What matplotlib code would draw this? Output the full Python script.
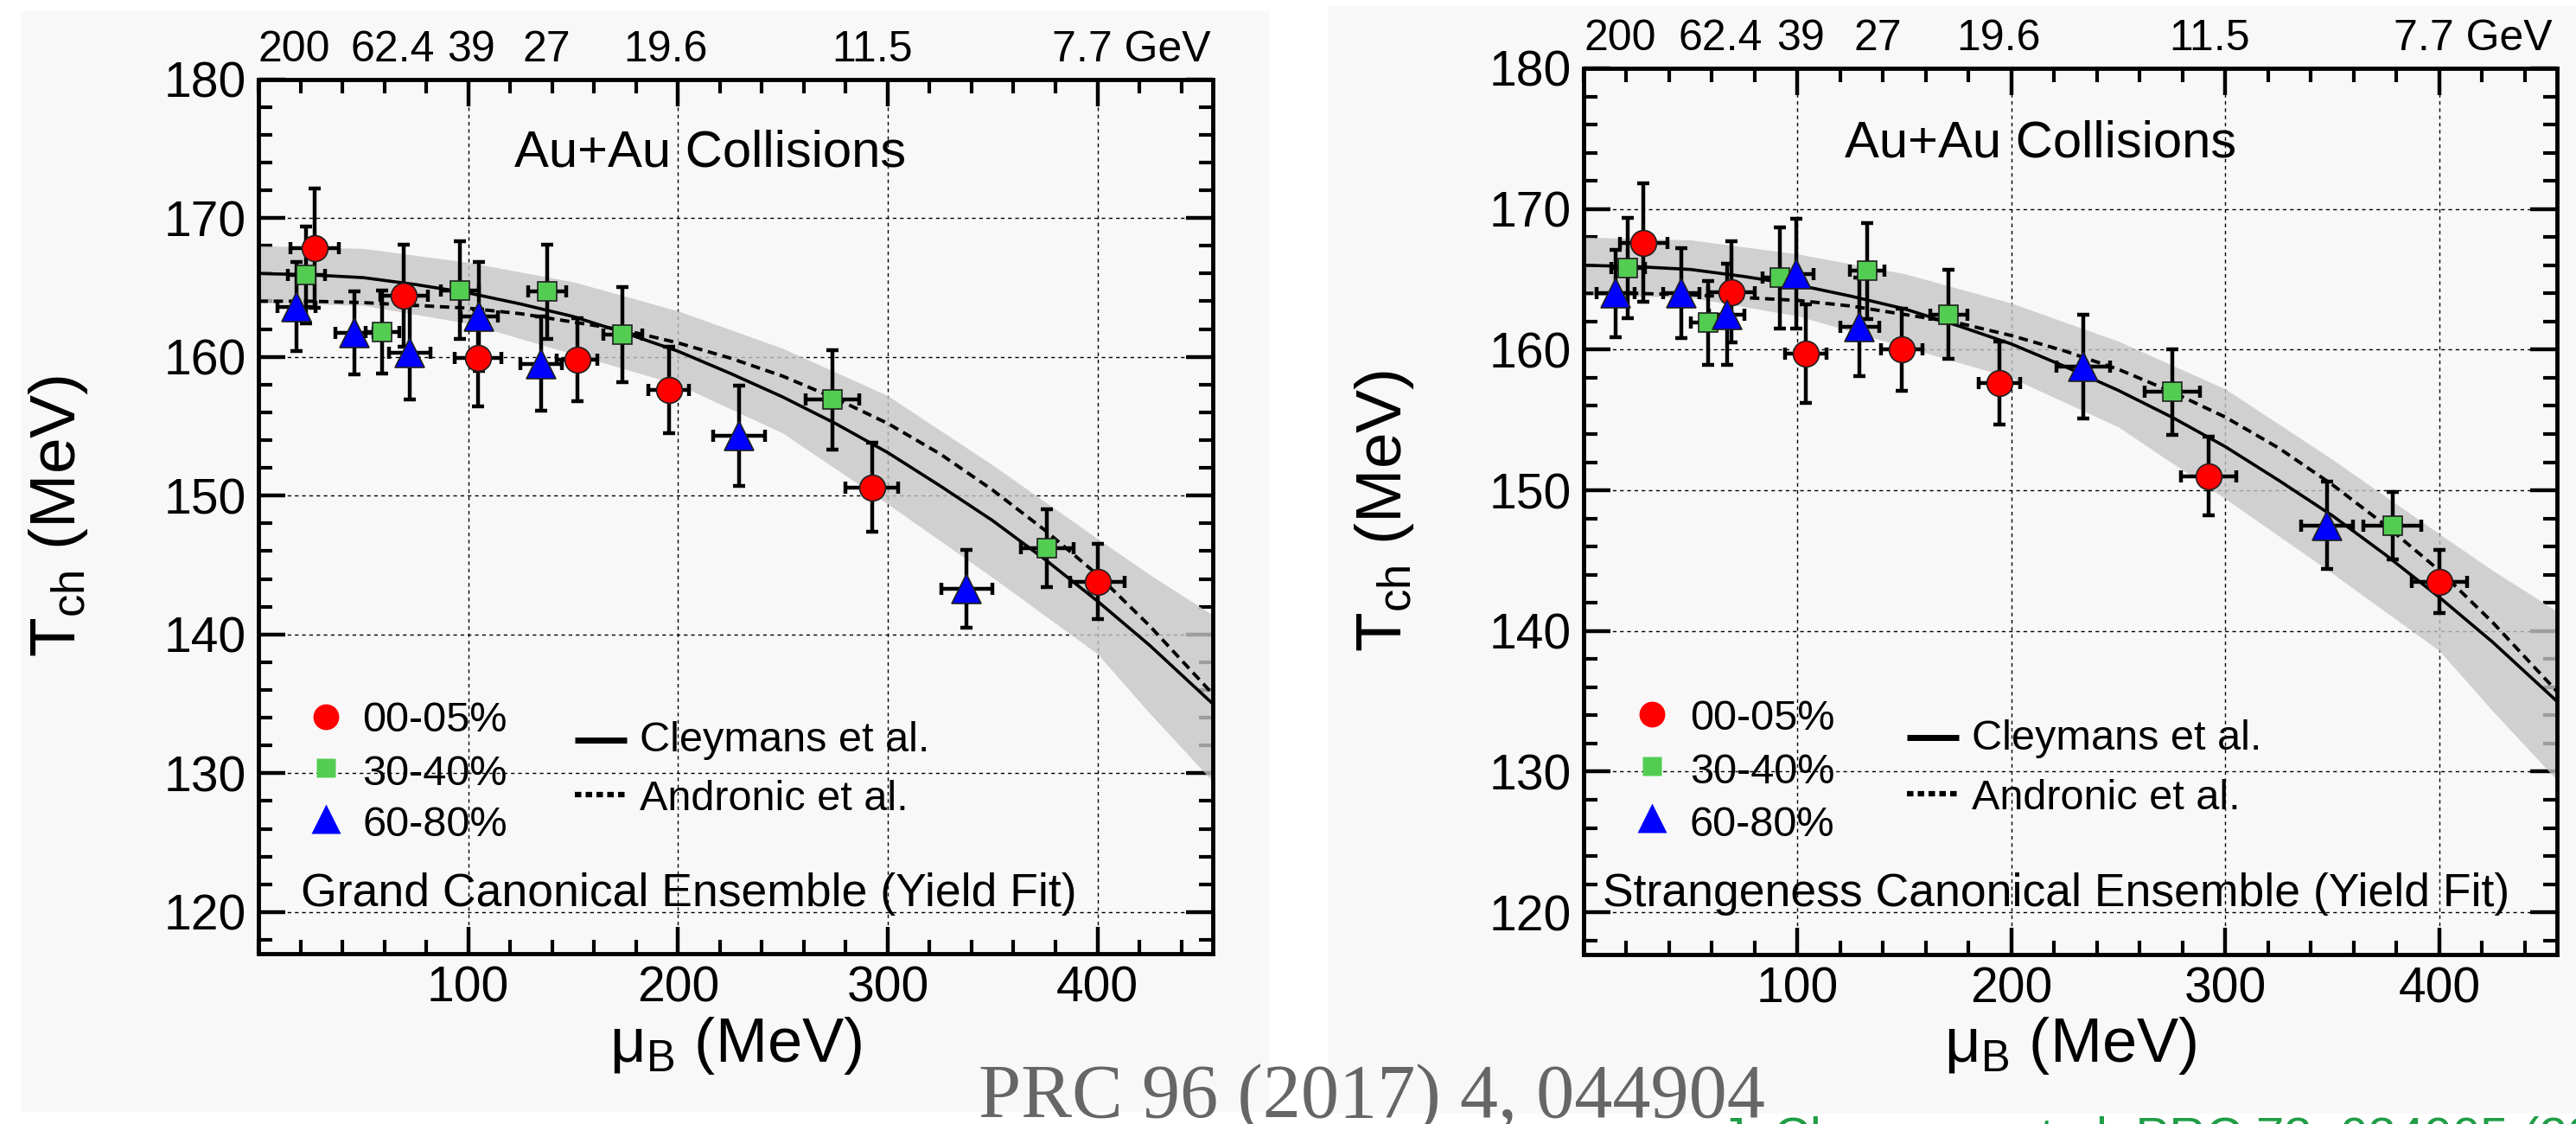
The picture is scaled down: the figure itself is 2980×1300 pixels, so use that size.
import matplotlib
matplotlib.use('Agg')
import matplotlib.pyplot as plt
from matplotlib.patches import Rectangle
from matplotlib.ticker import MultipleLocator

plt.rcParams['font.family'] = ['Liberation Sans', 'DejaVu Sans']
plt.rcParams['mathtext.fontset'] = 'custom'
plt.rcParams['mathtext.rm'] = 'Liberation Sans'
plt.rcParams['mathtext.it'] = 'Liberation Sans:italic'

# ---- data ----
energy_labels = ['200', '62.4', '39', '27', '19.6', '11.5', '7.7 GeV']
energy_mu = [17, 64, 101.5, 137.5, 194, 292.5, 392.6]

# model curves (mu_B in MeV, T in MeV)
curve_mu = [0, 25, 50, 75, 100, 125, 150, 175, 200, 225, 250, 275, 300, 325, 350, 375, 400, 425, 455]
cleymans_T = [166.0, 165.9, 165.7, 165.2, 164.6, 163.8, 162.9, 161.7, 160.4, 158.8, 157.1,
              155.2, 153.1, 150.7, 148.2, 145.4, 142.4, 139.2, 135.0]
andronic_T = [164.0, 164.0, 163.9, 163.7, 163.5, 163.1, 162.5, 161.9, 161.0, 159.9, 158.6,
              157.0, 155.2, 153.0, 150.4, 147.5, 144.3, 140.6, 135.7]
band_mu = [0, 50, 100, 150, 200, 250, 300, 350, 400, 425, 455]
band_hi = [168.0, 167.8, 166.8, 165.4, 163.3, 160.6, 157.2, 152.2, 146.9, 144.3, 141.4]
band_lo = [163.9, 163.7, 162.4, 160.2, 158.0, 154.5, 149.4, 144.1, 138.6, 134.3, 129.4]

# Grand canonical ensemble
gce_red_mu = [26.9, 69.3, 104.7, 151.9, 195.6, 292.5, 400.0]
gce_red_T = [167.8, 164.4, 159.9, 159.8, 157.6, 150.6, 143.8]
gce_red_Terr = [4.3, 3.7, 3.5, 3.0, 3.1, 3.2, 2.7]
gce_red_muerr = [11.5, 11.3, 11.0, 9.8, 9.7, 12.6, 13.0]

gce_green_mu = [22.8, 59.1, 95.9, 137.6, 173.7, 273.7, 375.9]
gce_green_T = [165.9, 161.8, 164.8, 164.7, 161.6, 156.9, 146.2]
gce_green_Terr = [3.5, 3.0, 3.5, 3.4, 3.4, 3.6, 2.8]
gce_green_muerr = [8.8, 8.0, 9.0, 9.0, 9.3, 12.7, 12.6]

gce_blue_mu = [18.1, 45.8, 72.1, 105.3, 134.8, 229.1, 337.7]
gce_blue_T = [163.6, 161.7, 160.3, 162.9, 159.5, 154.3, 143.3]
gce_blue_Terr = [3.2, 3.0, 3.4, 3.9, 3.4, 3.6, 2.8]
gce_blue_muerr = [9.2, 9.0, 10.0, 9.0, 10.0, 12.5, 12.0]

# Strangeness canonical ensemble
sce_red_mu = [28.0, 69.0, 103.8, 148.9, 194.2, 292.1, 400.0]
sce_red_T = [167.6, 164.1, 159.7, 160.0, 157.6, 151.0, 143.5]
sce_red_Terr = [4.2, 3.6, 3.5, 2.9, 2.95, 2.8, 2.25]
sce_red_muerr = [11.0, 11.0, 9.7, 9.7, 9.7, 13.0, 13.0]

sce_green_mu = [20.8, 58.3, 91.8, 132.6, 170.7, 275.2, 378.1]
sce_green_T = [165.8, 161.9, 165.1, 165.6, 162.5, 157.0, 147.5]
sce_green_Terr = [3.55, 3.0, 3.6, 3.4, 3.15, 3.05, 2.4]
sce_green_muerr = [8.0, 8.0, 8.0, 8.0, 8.7, 13.0, 13.5]

sce_blue_mu = [15.0, 45.6, 67.0, 99.3, 129.0, 233.6, 347.5]
sce_blue_T = [164.0, 164.0, 162.5, 165.4, 161.6, 158.8, 147.5]
sce_blue_Terr = [3.1, 3.2, 3.6, 3.9, 3.5, 3.7, 3.1]
sce_blue_muerr = [9.0, 8.4, 8.3, 8.0, 9.0, 12.6, 12.0]

W, H = 2980, 1300
PANEL = '#f8f8f8'
RED, GREEN, BLUE = '#ff0000', '#52cd52', '#0000ff'


def px_rect(x0, y0, x1, y1):
    # pixel box (top-left origin) -> figure fraction [left, bottom, w, h]
    return [x0 / W, 1 - y1 / H, (x1 - x0) / W, (y1 - y0) / H]


fig = plt.figure(figsize=(W / 100, H / 100), dpi=100)
fig.patch.set_facecolor('white')
for box in [(24, 13, 1468, 1286), (1536, 7, 2980, 1288)]:
    l, b, w, h = px_rect(*box)
    fig.add_artist(Rectangle((l, b), w, h, transform=fig.transFigure,
                             facecolor=PANEL, edgecolor='none', zorder=0))


def draw_panel(ax, red, green, blue, ens_text, ens_x):
    ax.set_facecolor(PANEL)
    ax.set_xlim(0, 455)
    ax.set_ylim(117, 180)
    ax.set_xticks([100, 200, 300, 400])
    ax.xaxis.set_minor_locator(MultipleLocator(20))
    ax.yaxis.set_major_locator(MultipleLocator(10))
    ax.yaxis.set_minor_locator(MultipleLocator(2))
    ax.tick_params(which='both', direction='in', top=True, right=True, color='k')
    ax.tick_params(which='major', length=22, width=3.2, labelsize=41, pad=10)
    ax.tick_params(which='minor', length=11.5, width=3.0)
    for s in ax.spines.values():
        s.set_linewidth(3.5)
    ax.set_axisbelow(True)
    ax.grid(True, which='major', color='k', lw=1.0, ls=(0, (3, 3)))

    ax.fill_between(band_mu, band_lo, band_hi, color='#c6c6c6', alpha=0.8,
                    lw=0, zorder=1)
    ax.plot(curve_mu, cleymans_T, color='k', lw=2.6, zorder=2)
    ax.plot(curve_mu, andronic_T, color='k', lw=2.8, ls=(0, (2.8, 1.7)), zorder=2)

    styles = [('o', RED, 21.5), ('s', GREEN, 16.5), ('^', BLUE, 25)]
    for (mu, T, Terr, muerr), (m, c, ms) in zip([red, green, blue], styles):
        ax.errorbar(mu, T, xerr=muerr, yerr=Terr, fmt='none', ecolor='k',
                    elinewidth=3.2, capsize=5, capthick=3.2, zorder=3)
        ax.plot(mu, T, ls='none', marker=m, ms=ms, mfc=c, mec='#202020',
                mew=1.2, zorder=4)

    # legend, drawn by hand like the ROOT original
    for (m, c, ms), y, lab, yb in zip(styles, [134.06, 130.4, 126.7],
                                      ['00-05%', '30-40%', '60-80%'],
                                      [133.0, 129.15, 125.45]):
        ax.plot([32], [y], ls='none', marker=m, ms=ms, mfc=c, mec='none', zorder=5)
        ax.text(49.6, yb, lab, fontsize=35, va='baseline', ha='left')
    ax.plot([151, 175.5], [132.4, 132.4], color='k', lw=5, solid_capstyle='butt')
    ax.plot([151, 175.5], [128.45, 128.45], color='k', lw=4.5, ls=(0, (1.2, 0.8)))
    ax.text(181.6, 131.55, 'Cleymans et al.', fontsize=35, va='baseline')
    ax.text(181.6, 127.35, 'Andronic et al.', fontsize=35, va='baseline')

    ax.text(122, 173.7, 'Au+Au Collisions', fontsize=43, va='baseline')
    ax.text(ens_x, 120.45, ens_text, fontsize=38.5, va='baseline')

    for lab, mu in zip(energy_labels, energy_mu):
        if lab.endswith('GeV'):
            ax.annotate(lab, xy=(mu, 1), xycoords=('data', 'axes fraction'),
                        xytext=(-25, 15), textcoords='offset points',
                        ha='left', va='baseline', fontsize=36, annotation_clip=False)
        else:
            ax.annotate(lab, xy=(mu, 1), xycoords=('data', 'axes fraction'),
                        xytext=(0, 15), textcoords='offset points',
                        ha='center', va='baseline', fontsize=36, annotation_clip=False)


ax1 = fig.add_axes(px_rect(299, 91.5, 1403, 1103))
draw_panel(ax1,
           (gce_red_mu, gce_red_T, gce_red_Terr, gce_red_muerr),
           (gce_green_mu, gce_green_T, gce_green_Terr, gce_green_muerr),
           (gce_blue_mu, gce_blue_T, gce_blue_Terr, gce_blue_muerr),
           'Grand Canonical Ensemble (Yield Fit)', 20.3)

ax2 = fig.add_axes(px_rect(1832, 79, 2958, 1104))
draw_panel(ax2,
           (sce_red_mu, sce_red_T, sce_red_Terr, sce_red_muerr),
           (sce_green_mu, sce_green_T, sce_green_Terr, sce_green_muerr),
           (sce_blue_mu, sce_blue_T, sce_blue_Terr, sce_blue_muerr),
           'Strangeness Canonical Ensemble (Yield Fit)', 8.9)

# axis titles
for xc in [851, 2395]:
    fig.text(xc / W, 1 - 1228 / H, r'μ$_{\mathrm{B}}$ (MeV)', fontsize=52,
             ha='center', va='baseline')
for xc, yc in [(68, 597), (1601, 591)]:
    fig.text(xc / W, 1 - yc / H, r'T$_{\mathrm{ch}}$ (MeV)', fontsize=54,
             rotation=90, ha='center', va='center')

fig.text(1132 / W, 1 - 1292 / H, 'PRC 96 (2017) 4, 044904', fontsize=63.5,
         family=['Liberation Serif', 'DejaVu Serif'], color='#666666',
         ha='left', va='baseline', zorder=10)
# source line that is cut off at the bottom edge of the screenshot
fig.text(1990 / W, 1 - 1333 / H, 'J. Cleymans et al. PRC 73, 034905 (2006)',
         fontsize=42, color='#1f9e45', ha='left', va='baseline', zorder=10)

fig.savefig('out.png', dpi=100, facecolor='white')
